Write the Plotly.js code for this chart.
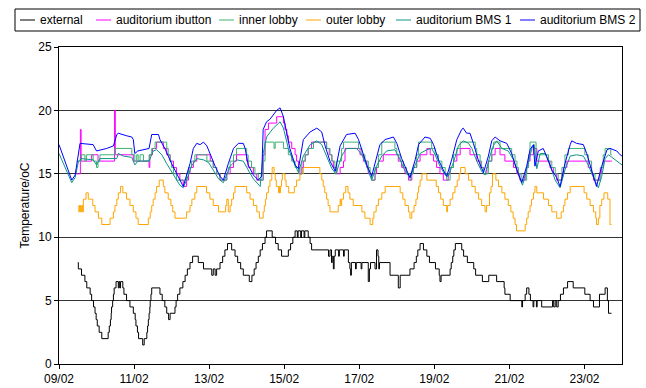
<!DOCTYPE html>
<html><head><meta charset="utf-8">
<script src="https://cdn.plot.ly/plotly-3.0.1.min.js"></script>
<style>html,body{margin:0;padding:0;background:#fff}#chart{width:646px;height:388px}</style>
</head><body><div id="chart"></div>
<script>
// ---- axis labels ----
const dayTicks = [0,2,4,6,8,10,12,14];
const dayTickLabels = ['09/02','11/02','13/02','15/02','17/02','19/02','21/02','23/02'];
const tempTicks = [0,5,10,15,20,25];

// ---- series names ----
const seriesNames = ['external','auditorium ibutton','inner lobby','outer lobby','auditorium BMS 1','auditorium BMS 2'];

// ---- external (days since 09/02, temperature) ----
const extDay = [0.50,0.515,0.60,0.69,0.74,0.83,0.87,0.92,0.96,0.99,1.02,1.07,1.14,1.31,1.34,1.37,1.39,1.40,1.43,1.45,1.47,1.52,1.58,1.60,1.62,1.64,1.70,1.73,1.80,1.89,1.98,2.03,2.05,2.09,2.12,2.23,2.27,2.34,2.36,2.38,2.40,2.42,2.43,2.45,2.47,2.69,2.75,2.82,2.87,2.92,2.96,3.09,3.12,3.16,3.22,3.30,3.36,3.42,3.49,3.56,3.71,3.85,4.07,4.11,4.16,4.20,4.29,4.36,4.42,4.49,4.60,4.69,4.76,4.84,4.91,5.07,5.14,5.20,5.25,5.31,5.36,5.42,5.49,5.53,5.68,5.77,5.84,5.93,6.11,6.17,6.23,6.29,6.35,6.37,6.44,6.46,6.53,6.55,6.64,6.69,6.73,7.18,7.22,7.26,7.28,7.31,7.33,7.36,7.45,7.47,7.58,7.60,7.71,7.75,7.77,7.79,7.90,7.92,8.05,8.07,8.24,8.27,8.30,8.42,8.46,8.50,8.52,8.54,8.82,9.04,9.09,9.35,9.46,9.52,9.56,9.62,9.71,9.80,9.87,10.03,10.13,10.15,10.18,10.42,10.45,10.49,10.52,10.56,10.73,10.78,10.88,11.05,11.10,11.28,11.45,11.66,11.86,11.88,12.02,12.33,12.35,12.42,12.46,12.52,12.56,12.63,12.65,12.72,12.74,12.86,13.15,13.18,13.22,13.26,13.30,13.36,13.44,13.55,13.70,14.01,14.15,14.24,14.40,14.55,14.61,14.64,14.72];
const extTemp = [8,7.5,7,6.5,6,5.5,5,4.5,4,3.5,3,2.5,2,2.5,3,3.5,4,4.5,5,5.5,6,6.5,6,6.5,6,6.5,6,5.5,5,4.5,4,3.5,3,2.5,2,1.5,2,2.5,3,3.5,4,4.5,5,5.5,6,5.5,5,4.5,4,3.5,4,4.5,5,5.5,6,6.5,7,7.5,8,8.5,8,7.5,7,7.5,7,7.5,8,8.5,9,9.5,9,8.5,8,7.5,7,6.5,7,7.5,8,8.5,9,9.5,10,10.5,10,9.5,9,8.5,9,9.5,10,10.5,10,10.5,10,10.5,10,10.5,10,9.5,9,8.5,9,8,8.5,7.5,8.5,9,8.5,9,8.5,9,8,7.5,7,8,7.5,8,7.5,8,6.5,7.5,8,7.5,9,8.5,7.5,8,7,6,7,7.5,8,8.5,9,9.5,9,8.5,8,7.5,7,6.5,7,7.5,8,8.5,9,9.5,9,8.5,8,7.5,7,6.5,7,6.5,6,5.5,5,4.5,5,5.5,6,5.5,5,4.5,5,4.5,5,4.5,5,4.5,5,4.5,5,5.5,6,6.5,6,5.5,5,4.5,5.5,6,5,4,4];

// ---- auditorium ibutton ----
const ibDay = [0.47,0.57,0.59,0.87,1.04,1.48,1.50,1.98,2.40,2.42,2.49,2.60,2.78,2.87,2.96,3.05,3.13,3.22,3.31,3.40,3.45,3.49,3.58,3.67,4.03,4.11,4.20,4.29,4.47,4.56,4.65,4.73,5.00,5.04,5.18,5.27,5.44,5.49,5.58,5.80,5.98,6.02,6.07,6.11,6.20,6.29,6.33,6.38,6.42,6.47,6.51,6.56,6.64,6.73,7.13,7.20,7.27,7.31,7.40,7.49,7.58,7.62,8.02,8.11,8.20,8.24,8.33,8.42,8.46,8.51,8.64,9.04,9.13,9.22,9.31,9.40,9.44,9.53,9.62,9.80,9.89,9.98,10.06,10.15,10.24,10.37,10.42,10.51,10.60,10.69,10.95,11.13,11.22,11.31,11.40,11.44,11.53,11.62,11.75,11.88,12.11,12.20,12.28,12.42,12.46,12.51,12.55,12.64,12.73,13.08,13.17,13.26,13.40,13.44,13.53,14.10,14.19,14.24,14.41,14.46,14.50,14.73];
const ibTemp = [15,18.5,16,16.5,16,20,16.5,16,15.5,16.5,17,17.5,17,16.5,16,15.5,15,14.5,14,14.5,15,15.5,16,16.5,16,15.5,15,14.5,15,15.5,16,16.5,16,15.5,15,14.5,16.5,18.5,19,19.5,19,18.5,18,17.5,17,16.5,16,15.5,15,15.5,16,16.5,17,17.5,17,16.5,16,15.5,15,15.5,16,17,16.5,16,15.5,15,14.5,15,15.5,16,16.5,16,15.5,15,14.5,15,15.5,16,16.5,17,16.5,16,15.5,15,14.5,15,15.5,16,16.5,17,16.5,16,15.5,15,15.5,16,16.5,17,16.5,16,15.5,15,14.5,15,15.5,16,16.5,17,16,15.5,15,14.5,15,15.5,16,15.5,15,14.5,15,15.5,16,16];

// ---- inner lobby ----
const innerDay = [0.47,0.60,0.69,0.73,0.91,1.00,1.04,1.09,1.49,1.94,2.02,2.07,2.11,2.16,2.25,2.40,2.47,2.56,2.87,2.91,2.96,3.00,3.05,3.13,3.40,3.45,3.53,3.62,3.94,4.11,4.20,4.29,4.47,4.51,4.56,4.65,4.73,5.00,5.04,5.13,5.22,5.31,5.44,5.49,5.73,5.76,5.98,6.11,6.20,6.29,6.38,6.47,6.56,6.64,6.78,7.13,7.22,7.27,7.35,7.40,7.53,7.58,7.98,8.07,8.15,8.24,8.29,8.33,8.42,8.51,8.60,8.95,9.00,9.09,9.18,9.26,9.35,9.38,9.44,9.53,9.58,9.93,10.02,10.11,10.20,10.29,10.33,10.42,10.51,10.60,10.69,11.09,11.13,11.22,11.26,11.31,11.44,11.53,11.58,11.75,12.06,12.15,12.20,12.24,12.33,12.46,12.51,12.55,12.71,13.04,13.13,13.22,13.30,13.40,13.48,13.57,14.01,14.10,14.19,14.28,14.42,14.50,14.55,14.70,14.73];
const innerTemp = [16,16.5,16,16.5,16,15.5,16,16.5,17,16.5,16,16.5,16,16.5,16,16.5,17,17.5,17,16.5,16,15.5,15,14.5,15,15.5,16,16.5,16,15.5,15,14.5,15,15.5,16,16.5,17,16.5,16,15.5,15,14.5,16,17.5,17,17.5,17,16.5,16,15.5,15,16,16.5,17,17.5,17,16.5,16,15,16,17,17.5,17,16.5,16,15.5,15,14.5,15.5,16.5,17.5,17,16.5,16,15.5,15,14.5,15,15.5,16.5,17.5,17,16.5,16,15.5,15,14.5,15.5,16.5,17,17.5,17,16.5,16,15.5,15,16,17,17.5,17,16.5,16,15.5,15,14.5,15.5,16.5,17.5,16.5,16,15.5,15,14.5,15.5,16.5,17,16.5,16,15,14.5,15.5,16.5,17,16.5,16.5];

// ---- outer lobby ----
const outerDay = [0.515,0.53,0.55,0.57,0.59,0.61,0.63,0.648,0.72,0.78,0.90,0.96,1.05,1.14,1.36,1.45,1.49,1.54,1.58,1.64,1.70,1.80,1.89,1.98,2.05,2.11,2.38,2.43,2.47,2.51,2.56,2.60,2.67,2.78,2.82,2.91,2.98,3.03,3.09,3.40,3.49,3.54,3.62,3.67,3.93,4.02,4.11,4.25,4.44,4.47,4.51,4.56,4.60,4.65,4.69,5.00,5.09,5.18,5.27,5.34,5.44,5.47,5.50,5.53,5.58,5.62,5.67,5.68,5.73,5.76,5.79,5.85,5.87,5.88,5.90,5.93,5.95,6.02,6.05,6.12,6.27,6.33,6.42,6.51,6.95,7.00,7.04,7.08,7.13,7.17,7.22,7.44,7.49,7.51,7.53,7.58,7.64,7.70,7.75,7.84,8.07,8.15,8.29,8.36,8.39,8.45,8.51,8.60,8.69,9.09,9.16,9.22,9.31,9.35,9.40,9.46,9.51,9.55,9.58,9.62,9.67,9.80,10.05,10.11,10.17,10.24,10.33,10.35,10.42,10.49,10.55,10.61,10.66,10.70,10.82,10.91,11.00,11.09,11.18,11.26,11.35,11.39,11.47,11.51,11.55,11.64,11.71,11.80,11.88,11.97,12.04,12.10,12.15,12.19,12.42,12.46,12.50,12.55,12.59,12.64,12.68,12.73,12.91,13.04,13.13,13.26,13.38,13.44,13.48,13.55,13.62,13.99,14.06,14.15,14.24,14.30,14.32,14.37,14.41,14.46,14.52,14.62,14.68,14.72];
const outerTemp = [12,12.5,12,12.5,12,12.5,12,13,13.5,13,12.5,12,11.5,11,11.5,12,12.5,13,13.5,14,13.5,13,12.5,12,11.5,11,11.5,12,12.5,13,13.5,14,14.5,14,13.5,13,12.5,12,11.5,12,12.5,13,13.5,14,13.5,13,12.5,12,12.5,13,12,12.5,13,13.5,14,13.5,13,12.5,12,11.5,12,12.5,13,13.5,14,14.5,15,15.5,15,14.5,14,13.5,14,13.5,14,14.5,15,14.5,14,13.5,14,14.5,15,15.5,15,14.5,14,13.5,13,12.5,12,12.5,13,12.5,13,13.5,14,13.5,13,12.5,12,11.5,11,11.5,12,12.5,13,13.5,14,13.5,13,12.5,12,11.5,12,12.5,13,13.5,14,14.5,15,14.5,14,13.5,13,12.5,12,12.5,13,13.5,14,14.5,15,15.5,15,14.5,14,13.5,13,12.5,12,12.5,13.5,14,15,14.5,14,13.5,13,12.5,12,11.5,11,10.5,11,11.5,12,12.5,13,13.5,14,13.5,13,12.5,12,11.5,12,12.5,13,13.5,14,13.5,13,12.5,12,11.5,11,11.5,12.5,13,13.5,13,11,11];

// ---- auditorium BMS 1 ----
const bms1Day = [0.00,0.20,0.34,0.43,0.52,0.60,0.91,1.00,1.09,1.54,1.58,1.72,1.94,2.02,2.10,2.40,2.51,2.60,2.74,2.87,3.05,3.22,3.31,3.40,3.53,3.67,3.85,3.98,4.11,4.25,4.38,4.56,4.73,4.91,5.04,5.18,5.36,5.44,5.53,5.71,5.89,5.98,6.11,6.24,6.38,6.51,6.69,6.87,7.00,7.13,7.27,7.38,7.53,7.66,7.93,8.07,8.20,8.33,8.46,8.60,8.73,8.95,9.09,9.22,9.35,9.49,9.62,9.80,9.93,10.02,10.15,10.29,10.37,10.51,10.64,10.77,10.91,11.00,11.13,11.26,11.35,11.48,11.57,11.66,11.80,11.97,12.11,12.24,12.35,12.48,12.60,12.66,12.73,12.82,12.95,13.08,13.22,13.35,13.48,13.62,13.79,13.97,14.10,14.24,14.37,14.46,14.55,14.64,14.77,14.90,15.00];
const bms1Temp = [16.6,15.3,14.3,14.7,16.0,16.2,16.1,15.7,16.2,16.2,16.6,16.4,16.3,15.7,16.0,16.0,16.8,16.9,16.5,15.8,14.9,14.1,13.9,14.5,15.6,16.2,16.1,15.9,15.3,14.6,14.3,15.6,16.1,16.0,15.3,14.6,14.0,16.6,17.9,18.6,19.1,18.6,17.0,16.0,15.1,16.4,17.3,17.6,17.3,16.4,15.4,15.0,16.4,17.0,17.0,16.5,15.6,14.5,15.6,16.4,16.8,16.9,16.1,15.2,14.7,15.7,16.6,16.9,17.0,16.5,15.6,14.9,14.8,15.9,17.2,17.6,17.4,17.0,16.0,15.2,14.9,16.4,17.2,17.6,17.0,16.8,16.1,14.9,14.1,15.6,17.0,17.3,15.4,16.6,16.6,15.7,14.5,13.9,15.3,16.4,16.5,16.4,15.7,14.7,13.9,14.8,16.2,16.5,16.2,15.9,15.7];

// ---- auditorium BMS 2 ----
const bms2Day = [0.00,0.20,0.34,0.43,0.56,0.91,1.00,1.27,1.45,1.54,1.58,1.80,1.94,1.98,2.02,2.10,2.40,2.47,2.65,2.69,2.82,3.00,3.18,3.31,3.40,3.49,3.58,3.67,3.76,3.85,3.94,4.03,4.16,4.29,4.38,4.51,4.65,4.78,4.91,4.96,5.04,5.18,5.31,5.40,5.44,5.53,5.62,5.80,5.89,5.98,6.07,6.15,6.29,6.38,6.51,6.69,6.87,7.00,7.09,7.22,7.36,7.49,7.66,7.89,7.98,8.07,8.20,8.33,8.46,8.55,8.69,8.91,9.00,9.13,9.26,9.35,9.49,9.58,9.75,9.89,9.98,10.11,10.24,10.33,10.46,10.60,10.73,10.77,10.86,10.95,11.04,11.17,11.31,11.44,11.53,11.62,11.75,11.93,12.06,12.20,12.33,12.46,12.55,12.64,12.68,12.77,12.90,12.99,13.13,13.26,13.35,13.48,13.62,13.66,13.79,13.97,14.06,14.19,14.32,14.46,14.60,14.68,14.77,14.86,14.95,15.00];
const bms2Temp = [17.3,15.7,14.5,14.9,17.4,17.3,16.8,17.0,17.2,18.1,18.2,18.0,17.9,17.7,16.6,16.8,17.0,18.1,18.1,17.7,17.0,15.8,14.7,14.0,14.9,15.8,17.0,17.4,17.3,17.5,17.2,16.5,15.6,14.8,14.5,15.8,17.0,17.4,17.4,17.0,15.7,14.9,14.5,14.8,18.5,19.1,19.3,20.0,20.2,19.5,18.2,17.0,15.7,15.4,17.7,18.3,18.6,18.3,17.2,16.0,15.2,17.2,18.1,18.2,17.7,16.9,15.7,14.8,16.4,17.3,17.7,17.9,17.4,16.2,15.3,14.7,16.1,17.3,17.9,17.8,17.3,16.1,15.3,14.8,16.1,17.7,18.5,18.6,18.2,18.2,17.4,16.1,15.1,16.4,17.6,17.9,17.6,17.4,16.6,15.3,14.3,15.6,16.9,17.3,15.6,16.8,17.0,16.4,15.3,14.7,14.0,15.8,17.3,17.6,17.4,17.3,16.6,15.3,14.0,15.6,16.9,17.0,16.9,16.8,16.5,16.4];

const seriesX = [extDay, ibDay, innerDay, outerDay, bms1Day, bms2Day];
const seriesY = [extTemp, ibTemp, innerTemp, outerTemp, bms1Temp, bms2Temp];
const seriesColors = ['#000000','#ff00ff','#3cb371','#ffa500','#0e9488','#0000ff'];
const seriesShapes = ['hv','hv','hv','hv','linear','linear'];

// plot box in pixels
const PL = 59, PR = 622, PT = 47, PB = 364, W = 646, H = 388;
const px2x = p => (p - PL) / (PR - PL);
const px2y = p => (PB - p) / (PB - PT);

const drawOrder = [0,3,1,2,4,5];
const traces = drawOrder.map(i => ({
  type: 'scatter', mode: 'lines', name: seriesNames[i],
  x: seriesX[i], y: seriesY[i],
  line: {color: seriesColors[i], width: 1, shape: seriesShapes[i]},
  showlegend: false, hoverinfo: 'skip'
}));

// custom legend (box, line samples, labels)
const legendLineX = [20, 96, 219, 306, 396, 520];
const legendY = 20;
const shapes = [{type:'rect', xref:'paper', yref:'paper', x0:px2x(15), x1:px2x(640), y0:px2y(9), y1:px2y(31), line:{color:'#000', width:1}, fillcolor:'rgba(0,0,0,0)'}];
const annotations = [];
seriesNames.forEach((n, i) => {
  shapes.push({type:'line', xref:'paper', yref:'paper', x0:px2x(legendLineX[i]), x1:px2x(legendLineX[i]+15), y0:px2y(legendY), y1:px2y(legendY), line:{color:seriesColors[i], width:1}});
  annotations.push({xref:'paper', yref:'paper', x:px2x(legendLineX[i]+18), y:px2y(legendY), xanchor:'left', yanchor:'middle', text:n, showarrow:false, font:{family:'Arial, Liberation Sans, sans-serif', size:12, color:'#000'}});
});

const font = {family:'Arial, Liberation Sans, sans-serif', size:12, color:'#000'};
const layout = {
  width: W, height: H,
  margin: {l: PL, r: W - PR, t: PT, b: H - PB, pad: 0},
  paper_bgcolor: '#fff', plot_bgcolor: '#fff',
  font: font, showlegend: false,
  xaxis: {range:[0,15], tickvals: dayTicks, ticktext: dayTickLabels, ticks:'outside', ticklen:4, tickcolor:'#000',
          showgrid:false, zeroline:false, showline:true, linecolor:'#000', linewidth:1, mirror:true,
          automargin:false, tickfont: font, fixedrange:true},
  yaxis: {range:[0,25], tickvals: tempTicks, ticks:'outside', ticklen:4, tickcolor:'#000',
          showgrid:true, gridcolor:'#333', gridwidth:1, zeroline:false, showline:true, linecolor:'#000', linewidth:1, mirror:true,
          automargin:false, tickfont: font, fixedrange:true,
          title:{text:'Temperature/oC', font: font, standoff: 6}},
  shapes: shapes, annotations: annotations
};
Plotly.newPlot('chart', traces, layout, {staticPlot:true, displayModeBar:false});
</script></body></html>
